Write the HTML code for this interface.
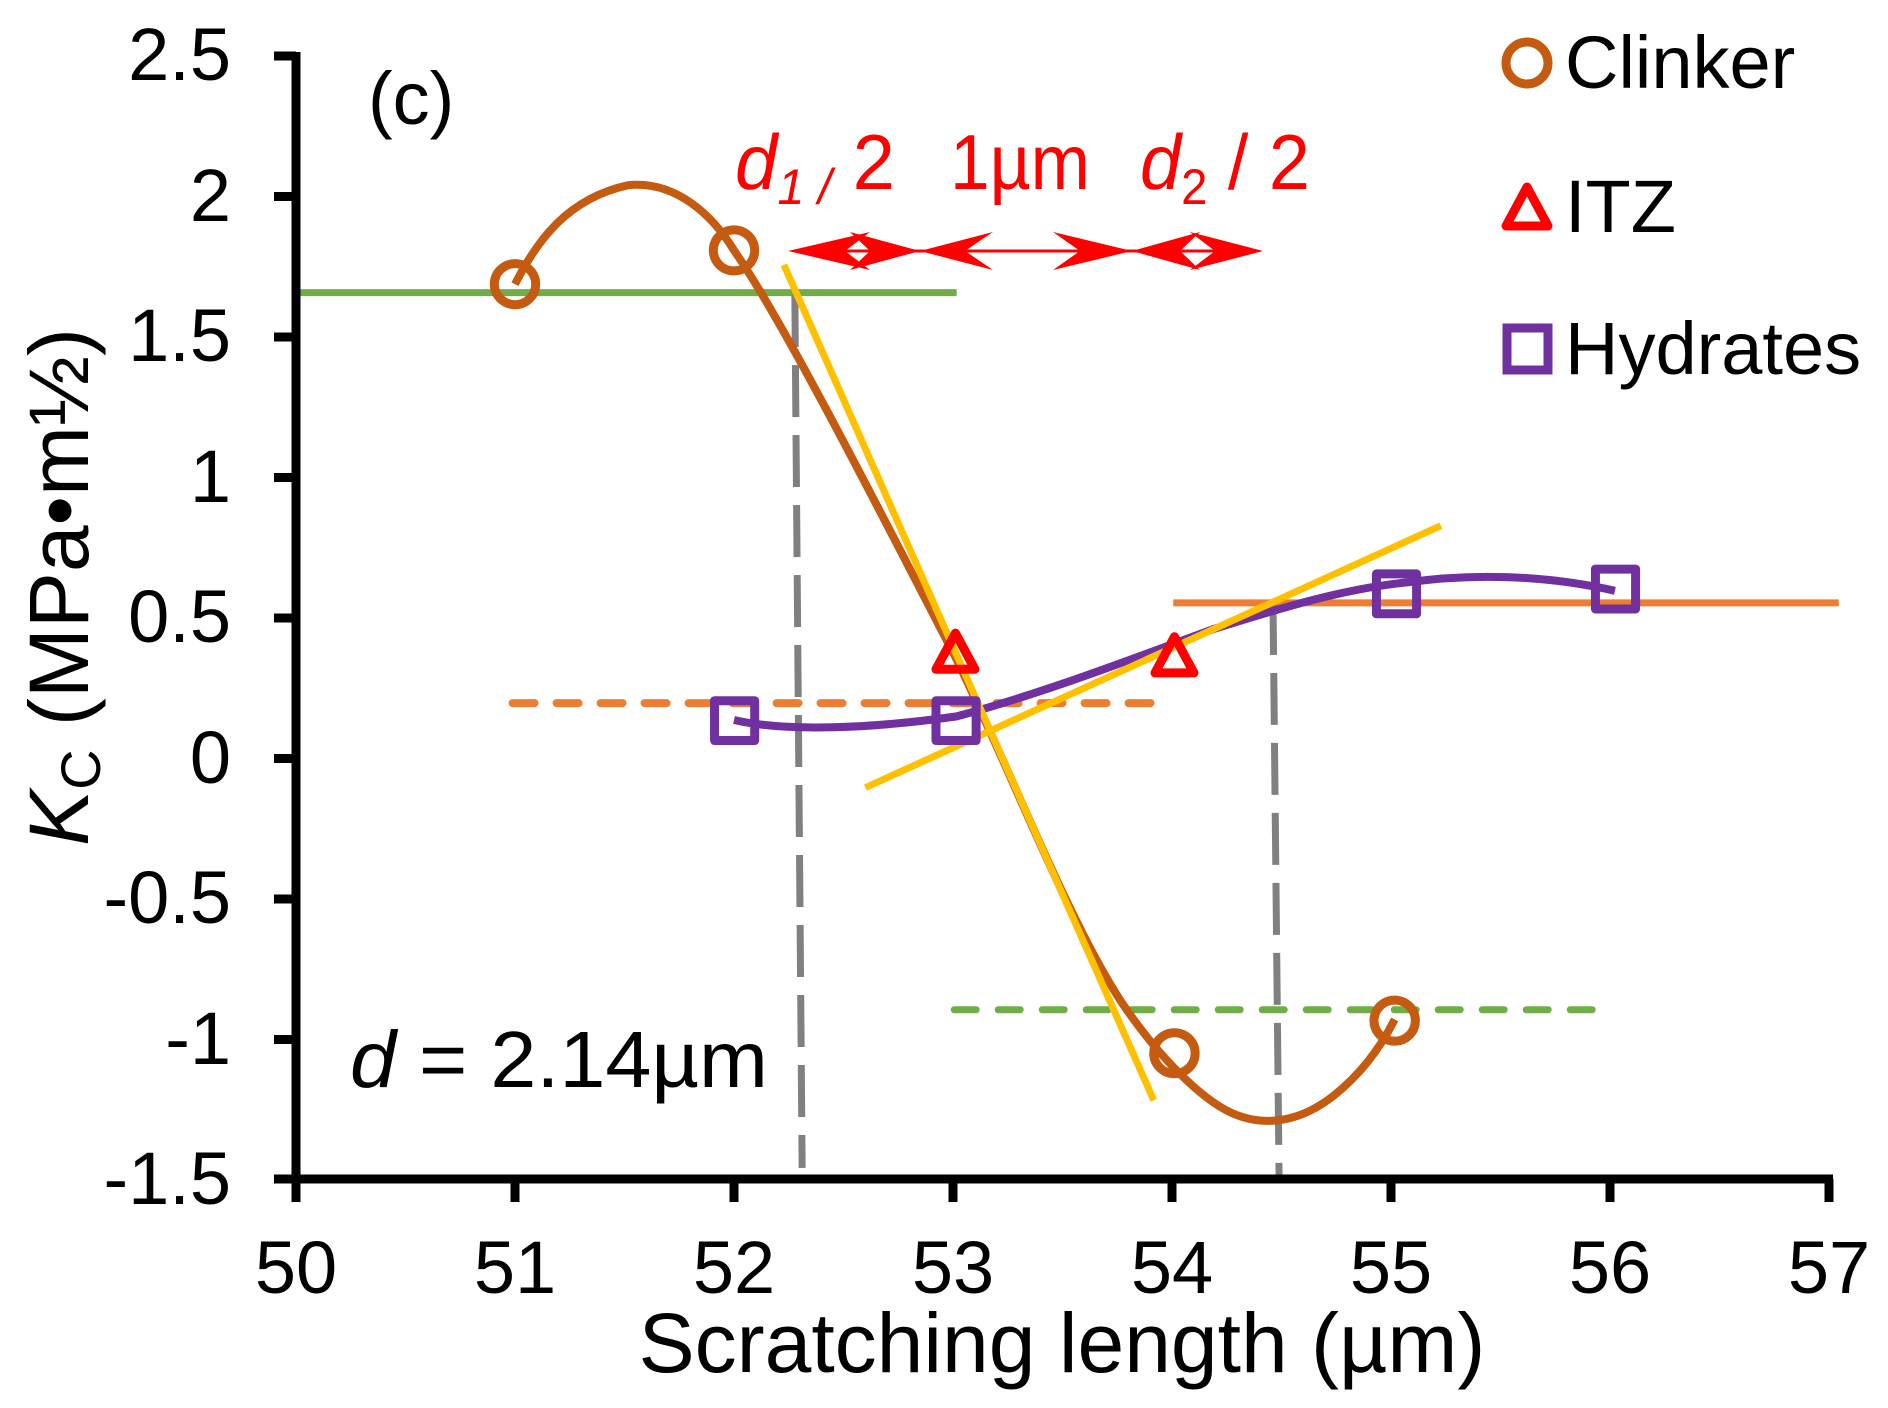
<!DOCTYPE html>
<html><head><meta charset="utf-8"><style>
html,body{margin:0;padding:0;background:#fff;}
svg{display:block;}
text{font-family:"Liberation Sans",Arial,sans-serif;}
</style></head><body>
<svg width="1888" height="1408" viewBox="0 0 1888 1408" xmlns="http://www.w3.org/2000/svg">
<rect width="1888" height="1408" fill="#fff"/>
<g transform="translate(296,56) scale(1.2167,1.2073) translate(-247,-47)" fill="none" stroke-linecap="butt">
  <line x1="247" y1="243" x2="790" y2="243" stroke="#70ad47" stroke-width="7" vector-effect="non-scaling-stroke"/>
  <line x1="968" y1="500" x2="1515" y2="500" stroke="#ed7d31" stroke-width="7" vector-effect="non-scaling-stroke"/>
  <line x1="425" y1="583" x2="958" y2="583" stroke="#ed7d31" stroke-width="8" stroke-dasharray="22 22" stroke-linecap="round" vector-effect="non-scaling-stroke"/>
  <line x1="788" y1="837" x2="1318" y2="837" stroke="#70ad47" stroke-width="7" stroke-dasharray="22 22" stroke-linecap="round" vector-effect="non-scaling-stroke"/>
  <line x1="657" y1="245" x2="663" y2="968" stroke="#808080" stroke-width="7" stroke-dasharray="52 18" vector-effect="non-scaling-stroke"/>
  <line x1="1050" y1="500" x2="1055" y2="978" stroke="#808080" stroke-width="7" stroke-dasharray="52 18" vector-effect="non-scaling-stroke"/>
  <path d="M427,236 C445,200 470,165 520,154 C560,150 590,180 607,208 C650,270 740,450 789,545 C835,640 880,760 925,830 C955,875 990,910 1015,922 C1045,936 1075,928 1100,908 C1125,888 1140,865 1150,845" stroke="#c55a11" stroke-width="8" vector-effect="non-scaling-stroke"/>
  <path d="M607,597 C650,607 720,604 790,594 C860,575 930,548 1000,522 C1060,503 1110,488 1160,483 C1210,476 1270,476 1331,490" stroke="#7030a0" stroke-width="8" vector-effect="non-scaling-stroke"/>
  <line x1="648" y1="220" x2="952" y2="912" stroke="#ffc000" stroke-width="7" vector-effect="non-scaling-stroke"/>
  <line x1="715" y1="653" x2="1188" y2="436" stroke="#ffc000" stroke-width="7" vector-effect="non-scaling-stroke"/>
  <g stroke="#c55a11" stroke-width="9">
    <circle cx="427" cy="236" r="17" vector-effect="non-scaling-stroke"/>
    <circle cx="607" cy="208" r="17" vector-effect="non-scaling-stroke"/>
    <circle cx="969" cy="873" r="17" vector-effect="non-scaling-stroke"/>
    <circle cx="1150" cy="846" r="17" vector-effect="non-scaling-stroke"/>
  </g>
  <g stroke="#7030a0" stroke-width="9" stroke-linejoin="round">
    <rect x="591" y="581" width="33" height="33" vector-effect="non-scaling-stroke"/>
    <rect x="773" y="581" width="33" height="33" vector-effect="non-scaling-stroke"/>
    <rect x="1135" y="476" width="33" height="33" vector-effect="non-scaling-stroke"/>
    <rect x="1315" y="472" width="33" height="33" vector-effect="non-scaling-stroke"/>
  </g>
  <g stroke="#ff0000" stroke-width="9" stroke-linejoin="round">
    <polygon points="789,525 805,555 773,555" vector-effect="non-scaling-stroke"/>
    <polygon points="969,528 985,558 953,558" vector-effect="non-scaling-stroke"/>
  </g>
</g>
<g fill="#ff0000" stroke="#ff0000">
  <line x1="800" y1="251" x2="1250" y2="251" stroke-width="3"/>
  <polygon points="788,251 870,232 845,251 870,270" stroke="none"/>
  <polygon points="920,251 850,232 870,251 850,270" stroke="none"/>
  <polygon points="920,251 993,232 965,251 993,270" stroke="none"/>
  <polygon points="1132,251 1053,232 1080,251 1053,270" stroke="none"/>
  <polygon points="1132,251 1200,232 1180,251 1200,270" stroke="none"/>
  <polygon points="1263,251 1190,232 1215,251 1190,270" stroke="none"/>
</g>
<g font-size="78" fill="#ff0000">
  <text x="735" y="189" textLength="160" lengthAdjust="spacingAndGlyphs"><tspan font-style="italic">d</tspan><tspan font-style="italic" font-size="50" dy="15">1 /</tspan><tspan dy="-15"> 2</tspan></text>
  <text x="950" y="189" textLength="140" lengthAdjust="spacingAndGlyphs">1µm</text>
  <text x="1140" y="189" textLength="170" lengthAdjust="spacingAndGlyphs"><tspan font-style="italic">d</tspan><tspan font-size="50" dy="15">2</tspan><tspan dy="-15"> / 2</tspan></text>
</g>
<g stroke="#000" stroke-width="9">
  <line x1="296" y1="52" x2="296" y2="1183"/>
  <line x1="292" y1="1179" x2="1833" y2="1179"/>
  <line x1="274" y1="56" x2="296" y2="56"/>
  <line x1="274" y1="196.5" x2="296" y2="196.5"/>
  <line x1="274" y1="337" x2="296" y2="337"/>
  <line x1="274" y1="477.5" x2="296" y2="477.5"/>
  <line x1="274" y1="618" x2="296" y2="618"/>
  <line x1="274" y1="758.5" x2="296" y2="758.5"/>
  <line x1="274" y1="899" x2="296" y2="899"/>
  <line x1="274" y1="1039.5" x2="296" y2="1039.5"/>
  <line x1="274" y1="1179" x2="296" y2="1179"/>
  <line x1="296" y1="1179" x2="296" y2="1202"/>
  <line x1="515" y1="1179" x2="515" y2="1202"/>
  <line x1="734" y1="1179" x2="734" y2="1202"/>
  <line x1="953" y1="1179" x2="953" y2="1202"/>
  <line x1="1172" y1="1179" x2="1172" y2="1202"/>
  <line x1="1391" y1="1179" x2="1391" y2="1202"/>
  <line x1="1610" y1="1179" x2="1610" y2="1202"/>
  <line x1="1829" y1="1179" x2="1829" y2="1202"/>
</g>
<g font-size="74" fill="#000" text-anchor="end">
  <text x="231" y="80">2.5</text>
  <text x="231" y="221">2</text>
  <text x="231" y="361">1.5</text>
  <text x="231" y="502">1</text>
  <text x="231" y="642">0.5</text>
  <text x="231" y="783">0</text>
  <text x="231" y="923">-0.5</text>
  <text x="231" y="1064">-1</text>
  <text x="231" y="1204">-1.5</text>
</g>
<g font-size="74" fill="#000" text-anchor="middle">
  <text x="296" y="1293">50</text>
  <text x="515" y="1293">51</text>
  <text x="734" y="1293">52</text>
  <text x="953" y="1293">53</text>
  <text x="1172" y="1293">54</text>
  <text x="1391" y="1293">55</text>
  <text x="1610" y="1293">56</text>
  <text x="1829" y="1293">57</text>
</g>
<text x="1062" y="1372" font-size="84" text-anchor="middle" fill="#000">Scratching length (µm)</text>
<text transform="translate(88,587) rotate(-90)" font-size="84" text-anchor="middle" fill="#000"><tspan font-style="italic">K</tspan><tspan font-size="56" dy="12">C</tspan><tspan dy="-12"> (MPa•m½)</tspan></text>
<text x="368" y="124" font-size="74" fill="#000">(c)</text>
<text x="350" y="1087" font-size="80" fill="#000" textLength="418" lengthAdjust="spacingAndGlyphs"><tspan font-style="italic">d</tspan> = 2.14µm</text>
<circle cx="1527" cy="63" r="21" fill="none" stroke="#c55a11" stroke-width="9"/>
<polygon points="1527,187 1548,226 1506,226" fill="none" stroke="#ff0000" stroke-width="9" stroke-linejoin="round"/>
<rect x="1507" y="328" width="41" height="42" fill="none" stroke="#7030a0" stroke-width="9"/>
<g font-size="74" fill="#000">
  <text x="1565" y="88">Clinker</text>
  <text x="1565" y="232">ITZ</text>
  <text x="1565" y="374">Hydrates</text>
</g>
</svg>
</body></html>
